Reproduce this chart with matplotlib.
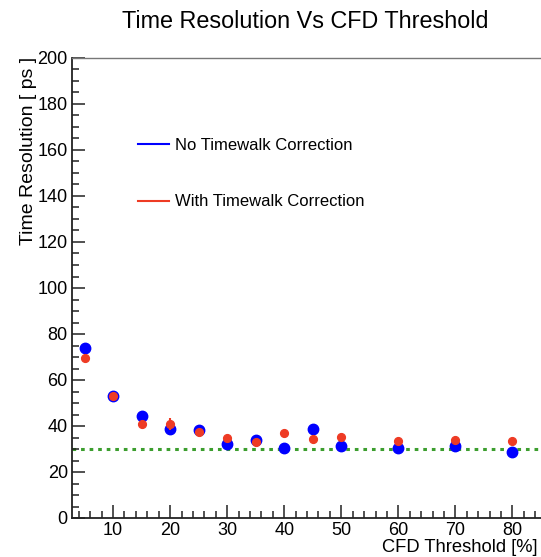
import numpy as np
import matplotlib
matplotlib.use('Agg')
import matplotlib.pyplot as plt
from matplotlib.ticker import MultipleLocator

plt.rcParams['font.family'] = ['Liberation Sans', 'DejaVu Sans']

# CFD threshold [%]
threshold = [5, 10, 15, 20, 25, 30, 35, 40, 45, 50, 60, 70, 80]
# time resolution [ps]
res_no_tw = [73.8, 53.2, 44.5, 38.6, 38.4, 32.0, 33.8, 30.3, 38.6, 31.2, 30.3, 31.3, 28.8]
res_tw = [69.7, 52.9, 40.9, 40.7, 37.4, 34.6, 33.2, 37.0, 34.5, 35.1, 33.6, 34.0, 33.6]
err_no_tw = [1.0, 0.8, 0.8, 0.8, 0.8, 0.8, 0.8, 0.8, 0.8, 0.8, 0.8, 0.8, 0.8]
err_tw = [1.8, 0.9, 0.9, 2.6, 0.9, 0.9, 0.9, 0.9, 0.9, 0.9, 0.9, 0.9, 0.9]
target = 30

blue = '#0000ff'
red = '#ee3b24'
green = '#3c9e2e'

fig = plt.figure(figsize=(5.41, 5.57), dpi=100)
ax = fig.add_axes([72/541, 39/557, 1 - 72/541, 460/557])

ax.axhline(target, color=green, lw=2.2, ls=(0, (1.2, 1.6)), zorder=1)
ax.errorbar(threshold, res_no_tw, yerr=err_no_tw, fmt='o', color=blue,
            ms=7.5, elinewidth=1.5, capsize=0, zorder=2)
ax.errorbar(threshold, res_tw, yerr=err_tw, fmt='o', color=red,
            ms=5.6, elinewidth=1.5, capsize=0, zorder=3)

ax.set_xlim(2.8, 85)
ax.set_ylim(0, 200)
ax.xaxis.set_major_locator(MultipleLocator(10))
ax.xaxis.set_minor_locator(MultipleLocator(2))
ax.yaxis.set_major_locator(MultipleLocator(20))
ax.yaxis.set_minor_locator(MultipleLocator(5))
ax.tick_params(which='both', direction='in', top=False, right=False,
               labelsize=13, width=1.1, color='#222222')
ax.tick_params(which='major', length=9.5)
ax.tick_params(which='minor', length=5)
ax.tick_params(axis='x', pad=3)
ax.tick_params(axis='y', pad=3)

for s in ['left', 'bottom']:
    ax.spines[s].set_linewidth(1.3)
    ax.spines[s].set_color('#222222')
ax.spines['top'].set_color('#777777')
ax.spines['top'].set_linewidth(1.0)
ax.spines['right'].set_visible(False)

# legend drawn as plain lines + text, like the original
fig.add_artist(plt.Line2D([138/541, 169/541], [1 - 144/557, 1 - 144/557], color=blue, lw=1.5))
fig.add_artist(plt.Line2D([138/541, 169/541], [1 - 201/557, 1 - 201/557], color=red, lw=1.5))
fig.text(175/541, 1 - 145/557, 'No Timewalk Correction', fontsize=12, va='center', ha='left')
fig.text(175/541, 1 - 202/557, 'With Timewalk Correction', fontsize=12, va='center', ha='left')

fig.text(305/541, 1 - 22/557, 'Time Resolution Vs CFD Threshold', fontsize=16.8,
         ha='center', va='center')
fig.text(538/541, 1 - 548/557, 'CFD Threshold [%]', fontsize=13.2, ha='right', va='center')
fig.text(29/541, 1 - 57/557, 'Time Resolution [ ps ]', fontsize=14, rotation=90,
         ha='center', va='top')

fig.savefig('out.png', dpi=100)
